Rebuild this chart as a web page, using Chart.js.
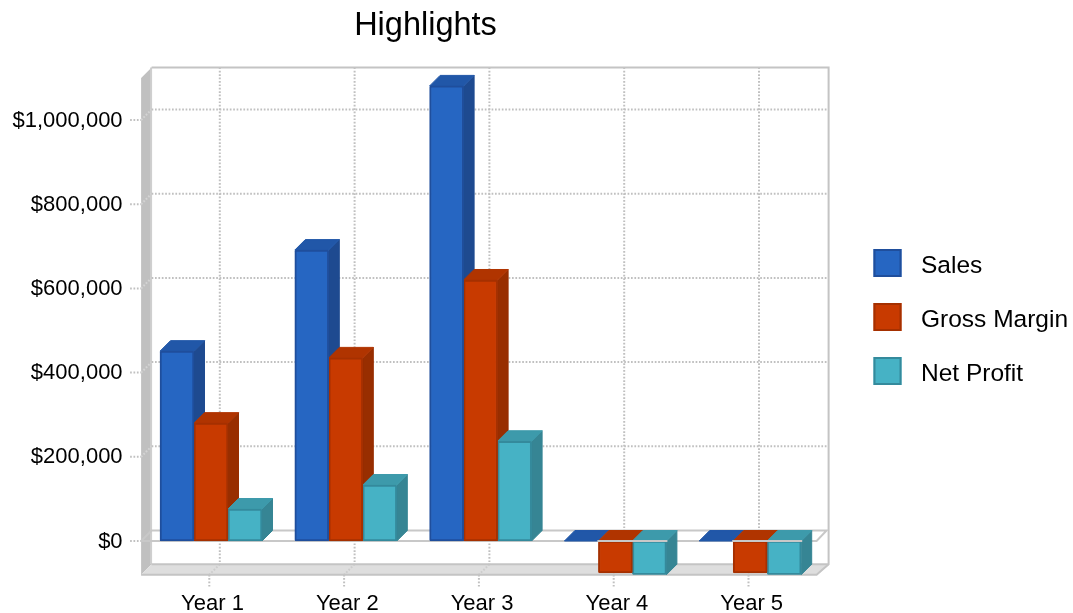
<!DOCTYPE html>
<html>
<head>
<meta charset="utf-8">
<title>Highlights</title>
<script src="https://cdn.jsdelivr.net/npm/chart.js@4/dist/chart.umd.js"></script>
<style>
  html, body { margin: 0; background: #fff; }
  canvas { display: block; }
</style>
</head>
<body>
<canvas id="highlightsChart" width="1073" height="613"></canvas>
<script>
var years = ['Year 1', 'Year 2', 'Year 3', 'Year 4', 'Year 5'];
var sales = [451000, 691000, 1081000, 0, 0];
var grossMargin = [280000, 435000, 620000, -76000, -76000];
var netProfit = [76000, 133000, 237000, -80000, -80000];
var yTicks = [0, 200000, 400000, 600000, 800000, 1000000];

var FONT = '"Liberation Sans", Arial, sans-serif';
var DEPTH = 10.5; // how far the back plane sits from the front plane
var DOTS = [1.7, 1.7];

// front, top and side colours for each series
var shades = [
  { front: '#2666c2', edge: '#1f4e9c', top: '#2157a8', side: '#1e4a90' },
  { front: '#c83a00', edge: '#a53000', top: '#b03400', side: '#982e00' },
  { front: '#46b2c5', edge: '#348a9c', top: '#3d9aab', side: '#368594' }
];

function poly(ctx, pts, fill, stroke) {
  ctx.beginPath();
  ctx.moveTo(pts[0][0], pts[0][1]);
  for (var i = 1; i < pts.length; i++) ctx.lineTo(pts[i][0], pts[i][1]);
  ctx.closePath();
  ctx.fillStyle = fill;
  ctx.fill();
  if (stroke) {
    ctx.strokeStyle = stroke;
    ctx.lineWidth = 1;
    ctx.stroke();
  }
}

function line(ctx, pts, color, width, dash) {
  ctx.beginPath();
  ctx.moveTo(pts[0][0], pts[0][1]);
  for (var i = 1; i < pts.length; i++) ctx.lineTo(pts[i][0], pts[i][1]);
  ctx.strokeStyle = color;
  ctx.lineWidth = width;
  ctx.setLineDash(dash || []);
  ctx.stroke();
  ctx.setLineDash([]);
}

// walls, floor and dotted grid of the 3D box, then the bar tops and sides
var box3d = {
  id: 'box3d',
  beforeDatasetsDraw: function(chart) {
    var ctx = chart.ctx;
    var a = chart.chartArea;
    var l = a.left - 2.5, r = a.right - 1, t = a.top, b = a.bottom;
    var backL = l + DEPTH, backR = r + DEPTH + 1.5, backT = t - DEPTH, backB = b - DEPTH;
    var y0 = chart.scales.y.getPixelForValue(0);
    ctx.save();

    // left wall and floor
    poly(ctx, [[l, t], [backL, backT], [backL, backB], [l, b]], '#c0c0c0');
    poly(ctx, [[l, b], [backL, backB], [backR, backB], [r, b]], '#dedede');
    line(ctx, [[backL - 0.5, backT], [backL - 0.5, backB]], '#cfcfcf', 2);

    // horizontal grid: tick in front, across the wall, along the back
    yTicks.forEach(function(v) {
      var y = chart.scales.y.getPixelForValue(v);
      line(ctx, [[l - 11, y], [l, y]], '#c0c0c0', 2, DOTS);
      if (v !== 0) {
        line(ctx, [[l, y], [backL, y - DEPTH]], '#d4d4d4', 2, DOTS);
        line(ctx, [[backL, y - DEPTH], [backR, y - DEPTH]], '#c0c0c0', 2, DOTS);
      }
    });

    // vertical grid: back wall, across the floor, tick below
    chart.scales.x.ticks.forEach(function(tick, i) {
      var x = chart.scales.x.getPixelForTick(i) - 1.7;
      line(ctx, [[x + DEPTH, backT], [x + DEPTH, backB]], '#c0c0c0', 2, DOTS);
      line(ctx, [[x + DEPTH, backB], [x, b]], '#cccccc', 2, DOTS);
      line(ctx, [[x, b], [x, b + 12]], '#c0c0c0', 2, DOTS);
    });

    // frame lines
    line(ctx, [[backL, backT], [backR, backT], [backR, backB], [r, b], [l, b]], '#c4c4c4', 2);
    line(ctx, [[backR, backB], [backL, backB]], '#c4c4c4', 2);
    line(ctx, [[l, y0], [backL, y0 - DEPTH], [backR - 2, y0 - DEPTH], [r, y0], [l, y0]], '#c8c8c8', 2);

    // tops and sides go left to right, the fronts drawn afterwards hide the overlaps
    years.forEach(function(year, c) {
      shades.forEach(function(shade, s) {
        var bar = chart.getDatasetMeta(s).data[c];
        var x0 = bar.x - bar.width / 2, x1 = bar.x + bar.width / 2;
        var top = Math.min(bar.y, bar.base), bot = Math.min(Math.max(bar.y, bar.base), b);
        if (bot > top) {
          poly(ctx, [[x1, top], [x1 + DEPTH, top - DEPTH], [x1 + DEPTH, bot - DEPTH], [x1, bot]], shade.side, shade.side);
        }
        poly(ctx, [[x0, top], [x1, top], [x1 + DEPTH, top - DEPTH], [x0 + DEPTH, top - DEPTH]], shade.top, shade.top);
      });
    });
    ctx.restore();
  },
  afterDatasetsDraw: function(chart) {
    // the zero line stays visible over the bars that hang below it
    var ctx = chart.ctx;
    var y0 = chart.scales.y.getPixelForValue(0);
    ctx.save();
    shades.forEach(function(shade, s) {
      chart.getDatasetMeta(s).data.forEach(function(bar) {
        if (bar.y > bar.base) {
          line(ctx, [[bar.x - bar.width / 2 - 1, y0], [bar.x + bar.width / 2 + 1, y0]], '#c8c8c8', 2);
        }
      });
    });
    ctx.restore();
  },
  afterDraw: function(chart) {
    var ctx = chart.ctx;
    ctx.save();
    ctx.fillStyle = '#000';
    ctx.textBaseline = 'middle';

    ctx.font = '32.5px ' + FONT;
    ctx.textAlign = 'center';
    ctx.fillText('Highlights', 425.5, 26.5);

    // legend on the right
    ctx.font = '24.5px ' + FONT;
    ctx.textAlign = 'left';
    chart.data.datasets.forEach(function(ds, i) {
      var y = 249 + i * 54;
      ctx.fillStyle = shades[i].front;
      ctx.fillRect(873.5, y, 28, 28);
      ctx.strokeStyle = shades[i].edge;
      ctx.lineWidth = 2;
      ctx.strokeRect(874.5, y + 1, 26, 26);
      ctx.fillStyle = '#000';
      ctx.fillText(ds.label, 921, y + 17.5);
    });
    ctx.restore();
  }
};

document.addEventListener('DOMContentLoaded', function() {
  var ctx = document.getElementById('highlightsChart').getContext('2d');
  var series = [sales, grossMargin, netProfit];
  var names = ['Sales', 'Gross Margin', 'Net Profit'];

  new Chart(ctx, {
    type: 'bar',
    data: {
      labels: years,
      datasets: series.map(function(values, i) {
        return {
          label: names[i],
          data: values,
          backgroundColor: shades[i].front,
          borderColor: shades[i].edge,
          borderWidth: 2,
          borderSkipped: false,
          borderRadius: 1.5,
          barThickness: 34
        };
      })
    },
    options: {
      responsive: false,
      animation: false,
      layout: { padding: { left: 0, top: 77.9, right: 255.4, bottom: 0 } },
      plugins: {
        legend: { display: false },
        title: { display: false },
        tooltip: { enabled: false }
      },
      scales: {
        x: {
          grid: { display: false, drawTicks: false },
          border: { display: false },
          ticks: {
            color: '#000',
            font: { family: FONT, size: 22 },
            padding: 16,
            labelOffset: 1.5,
            maxRotation: 0,
            autoSkip: false
          },
          afterFit: function(scale) { scale.height = 38.3; }
        },
        y: {
          min: -80000,
          max: 1100000,
          grid: { display: false, drawTicks: false },
          border: { display: false },
          afterBuildTicks: function(scale) {
            scale.ticks = yTicks.map(function(v) { return { value: v }; });
          },
          ticks: {
            color: '#000',
            font: { family: FONT, size: 22 },
            padding: 21,
            labelOffset: 0.5,
            callback: function(v) { return '$' + v.toLocaleString('en-US'); }
          },
          afterFit: function(scale) { scale.width = 143.6; }
        }
      }
    },
    plugins: [box3d]
  });
});
</script>
</body>
</html>
